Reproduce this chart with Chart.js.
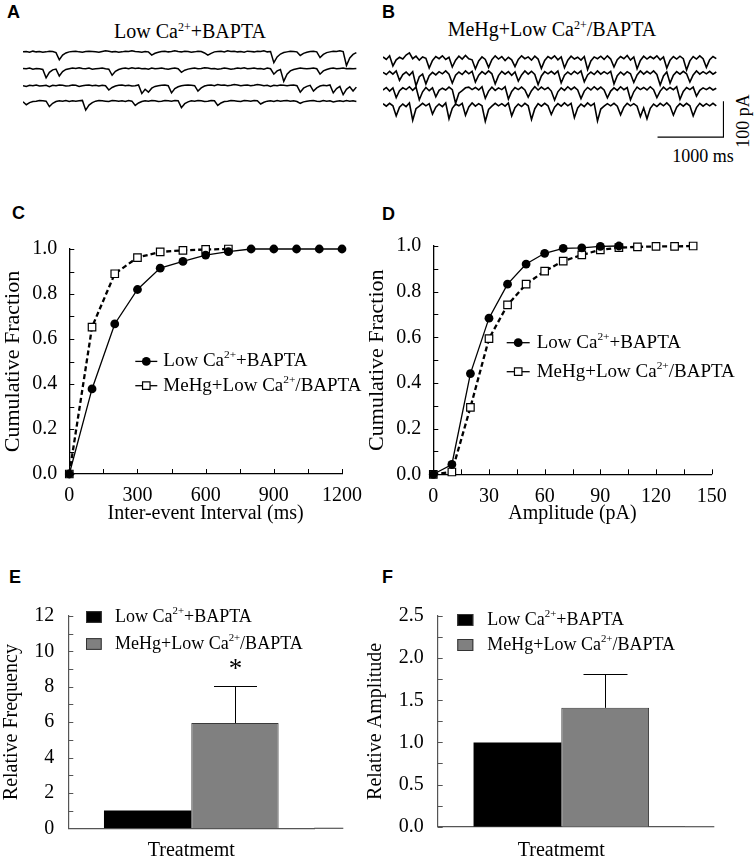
<!DOCTYPE html>
<html>
<head>
<meta charset="utf-8">
<script src="https://cdn.jsdelivr.net/npm/chart.js@4.4.1/dist/chart.umd.min.js"></script>
<style>
  body { margin: 0; background: #fff; width: 755px; height: 863px; position: relative; overflow: hidden;
         font-family: "Liberation Serif", "Times New Roman", serif; color: #000; }
  canvas { position: absolute; }
  .letter { position: absolute; font: bold 18px "Liberation Sans", Arial, sans-serif; line-height: 18px; }
  .title { position: absolute; font-size: 20px; line-height: 20px; white-space: nowrap; transform: translateX(-50%); }
  .scale { position: absolute; font-size: 18px; line-height: 18px; white-space: nowrap; }
  sup { font-size: 60%; position: relative; top: -0.6em; vertical-align: baseline; line-height: 0; }
</style>
</head>
<body>
<div class="letter" style="left:7px;top:3px">A</div>
<div class="letter" style="left:382px;top:3px">B</div>
<div class="letter" style="left:12px;top:204px">C</div>
<div class="letter" style="left:382px;top:205px">D</div>
<div class="letter" style="left:9px;top:568px">E</div>
<div class="letter" style="left:382px;top:568px">F</div>
<div class="title" id="titleA" style="left:190px;top:21px"></div>
<div class="title" id="titleB" style="left:552px;top:19px"></div>
<div class="scale" style="left:743px;top:121px;transform:translate(-50%,-50%) rotate(-90deg)">100 pA</div>
<div class="scale" style="left:703px;top:147px;transform:translateX(-50%)">1000 ms</div>

<canvas id="traceA" width="336" height="100" style="left:23px;top:40px"></canvas>
<canvas id="traceB" width="341" height="100" style="left:383px;top:40px"></canvas>
<canvas id="chartC" width="372" height="301" style="left:0px;top:225px"></canvas>
<canvas id="chartD" width="381" height="304" style="left:364px;top:222px"></canvas>
<canvas id="chartE" width="372" height="273" style="left:0px;top:590px"></canvas>
<canvas id="chartF" width="381" height="273" style="left:364px;top:590px"></canvas>

<script>
// ---- data ----
// series names; odd parts are superscripts
const seriesLabels = [['Low Ca', '2+', '+BAPTA'], ['MeHg+Low Ca', '2+', '/BAPTA']];

// sample traces (pA, relative to each trace baseline), one sample every 50 ms
const sampleMs = 50;
const lowCaTraces = [
  [0,1,-1,2,0,1,-1,0,2,1, -2,-22,-9,-3,0,1,2,0,-1,1, 2,1,0,-1,1,3,2,0,1,-1, 0,2,1,3,1,0,-1,1,0,-9,
   -4,-1,1,2,0,1,3,1,0,2, 1,-1,0,2,1,-3,-9,-4,0,1, 2,0,3,1,2,0,1,-1,2,1, 0,2,1,3,0,1,-30,-14,-6,-2,
   0,2,1,0,-10,-4,-1,1,2,0, -16,-7,-2,0,2,1,3,1,-38,-17, -7,-2],
  [1,0,2,-1,1,0,-2,-25,-10,-3, -1,-20,-8,-2,0,2,1,3,1,0, 2,-1,0,1,2,0,-1,-18,-7,-2, 1,2,0,3,1,2,0,1,-1,2,
   0,1,2,0,-1,1,2,0,-10,-4, -1,1,2,0,1,3,2,0,1,-1, 0,2,1,-1,0,2,1,3,0,1, 2,0,1,-1,2,0,-15,-6,-2,-35,
   -15,-6,-2,0,2,1,0,1,2,0, -15,-6,-2,1,2,0,1,2,0,1, 0,1],
  [0,-2,1,0,2,-1,0,1,-3,1, 0,2,1,-1,0,2,1,-2,0,1, 2,0,1,-1,1,0,-12,-5,-1,1, 2,0,1,-1,0,2,-22,-10,-18,-7,
   -2,0,1,2,0,-20,-8,-3,0,1, 2,1,0,-15,-6,-1,1,2,0,3, 1,2,0,1,3,2,0,1,2,0, 1,3,2,0,1,-2,1,0,2,1,
   0,1,2,0,-18,-7,-2,1,-15,-6, -1,1,0,2,-20,-8,-2,-25,-10,-3, -15,-4],
  [-2,-10,-4,-1,0,2,1,0,-15,-6, -1,1,0,2,-1,1,0,1,2,-25, -11,-4,0,2,1,0,-1,2,1,0, 1,-1,2,0,-12,-5,-1,1,0,2,
   1,-1,0,2,1,0,2,1,-18,-7, -2,1,0,2,1,-1,0,2,1,-12, -5,-1,0,2,1,0,-1,2,1,0, 2,1,-8,-3,0,1,-1,2,0,1,
   2,0,1,-1,-6,-2,0,1,2,0, -1,2,0,1,-2,0,1,-1,2,0, 1,-1]
];
const mehgTraces = [
  [3,-4,6,-22,-5,2,-3,8,14,-2, 5,-6,3,-1,-28,-7,4,-2,6,-4, 2,-25,-6,5,-3,7,-2,-5,-30,-8, 3,-4,-26,-5,6,-3,4,-7,2,-5,
   -24,-4,6,-2,3,-6,5,-3,-29,-7, 4,-2,6,-5,3,-27,-6,5,-3,2, -6,4,-32,-8,3,-2,5,-4,6,-3, -25,-5,4,-2,7,-6,3,-30,-7,5,
   -3,4,-2,6,-5,3,-28,-6,4,-3, 5,-2,-33,-8,4,-3,6,-2,-26,-5, 4,-2],
  [2,-4,5,-3,6,-20,-4,3,-6,4, -35,-10,-3,-30,-7,2,-5,4,-2,6, -3,-28,-6,3,-4,6,-2,5,-25,-6, 4,-3,6,-2,-30,-7,5,-3,4,-6,
   3,-22,-5,6,-3,5,-4,-32,-8,4, -2,5,-3,6,-27,-6,3,-4,5,-2, 6,-24,-5,3,-4,6,-3,4,-2,5, -30,-7,3,-5,4,-2,-26,-5,6,-3,
   5,-2,6,-4,-33,-8,3,-28,-6,4, -3,5,-2,-25,-5,6,-3,4,-2,5, -3,3],
  [-3,4,-6,3,-24,-5,3,-2,6,-4, 5,-30,-8,4,-5,3,-22,-4,2,-3, 5,-2,-40,-12,-5,3,5,-2,4,-3, 6,-26,-6,5,-4,3,-2,6,-28,-7,
   4,-2,5,-3,-23,-5,6,-3,5,-2, 4,-6,-31,-8,3,-4,6,-2,5,-3, -27,-6,4,-3,6,-2,5,-3,-25,-6, 3,-4,6,-2,4,-30,-8,5,-2,4,
   -3,6,-2,-24,-6,5,-3,4,-2,6, -29,-7,4,-2,5,-20,-4,3,-2,4, -3,2],
  [4,-3,5,-2,-30,-6,3,-4,6,-42, -10,-3,5,-2,4,-25,-6,3,-4,6, -38,-9,3,-2,5,-28,-5,6,-3,4, -2,-45,-12,-3,5,-2,4,-3,6,-30,
   -7,3,-4,5,-2,-40,-10,4,-3,5, -2,-26,-6,4,-3,6,-2,5,-35,-8, 3,-4,6,-2,5,-44,-11,-3,4,-2, 5,-3,-27,-6,5,-2,4,-3,-32,-8,
   -38,-9,3,-4,5,-2,6,-3,-28,-6, 4,-3,5,-2,-30,-7,5,-3,4,-2, 5,-2]
];
const scaleBarMs = 1000;
const scaleBarPA = 100;

// cumulative distributions
const intervalLowCaX = [0, 100, 200, 300, 400, 500, 600, 700, 800, 900, 1000, 1100, 1200];
const intervalLowCa  = [0, 0.378, 0.667, 0.82, 0.915, 0.945, 0.973, 0.988, 1, 1, 1, 1, 1];
const intervalMeHgX  = [0, 100, 200, 300, 400, 500, 600, 700];
const intervalMeHg   = [0, 0.653, 0.89, 0.962, 0.987, 0.994, 0.998, 1];
const ampLowCaX = [0, 10, 20, 30, 40, 50, 60, 70, 80, 90, 100];
const ampLowCa  = [0, 0.043, 0.441, 0.684, 0.833, 0.921, 0.968, 0.99, 0.992, 0.998, 1];
const ampMeHgX  = [0, 10, 20, 30, 40, 50, 60, 70, 80, 90, 100, 110, 120, 130, 140];
const ampMeHg   = [0, 0.01, 0.293, 0.594, 0.742, 0.833, 0.89, 0.934, 0.961, 0.983, 0.993, 0.996, 0.998, 0.998, 1];

// normalised bars
const relFreq = [1.0, 5.95];
const relFreqErr = [0, 2.08];
const relFreqSig = ['', '*'];
const relAmp = [1.0, 1.41];
const relAmpErr = [0, 0.4];
const relAmpSig = ['', ''];
const treatmentLabel = 'Treatmemt';

// ---- setup ----
Chart.defaults.font.family = '"Liberation Serif", "Times New Roman", serif';
Chart.defaults.color = '#000';

function htmlLabel(parts) {
  return parts.map((p, i) => i % 2 ? '<sup>' + p + '</sup>' : p).join('');
}
document.getElementById('titleA').innerHTML = htmlLabel(seriesLabels[0]);
document.getElementById('titleB').innerHTML = htmlLabel(seriesLabels[1]);

function drawRich(ctx, parts, x, y, size) {
  ctx.textBaseline = 'middle';
  ctx.textAlign = 'left';
  parts.forEach((p, i) => {
    if (i % 2) {
      ctx.font = (size * 0.6) + 'px ' + Chart.defaults.font.family;
      ctx.fillText(p, x, y - size * 0.32);
    } else {
      ctx.font = size + 'px ' + Chart.defaults.font.family;
      ctx.fillText(p, x, y);
    }
    x += ctx.measureText(p).width;
  });
}

// inward tick marks on the axes
const inwardTicks = {
  id: 'inwardTicks',
  afterDraw(chart, args, opts) {
    const ctx = chart.ctx, xs = chart.scales.x, ys = chart.scales.y;
    ctx.save();
    ctx.strokeStyle = opts.color || '#000';
    ctx.lineWidth = 1;
    ctx.beginPath();
    if (opts.xStep) {
      for (let i = 0; ; i++) {
        const v = xs.min + i * opts.xStep;
        if (v > xs.max + 1e-9) break;
        const p = Math.round(xs.getPixelForValue(v)) + 0.5;
        ctx.moveTo(p, xs.top); ctx.lineTo(p, xs.top - opts.len);
      }
    }
    if (opts.yStep) {
      for (let i = 0; ; i++) {
        const v = ys.min + i * opts.yStep;
        if (v > ys.max + 1e-9) break;
        const p = Math.round(ys.getPixelForValue(v)) + 0.5;
        ctx.moveTo(ys.right, p); ctx.lineTo(ys.right + opts.len, p);
      }
    }
    ctx.stroke();
    if (opts.tail) {
      ctx.lineWidth = 1.2;
      ctx.beginPath();
      const yb = xs.top;
      ctx.moveTo(chart.chartArea.right, yb); ctx.lineTo(chart.chartArea.right + opts.tail, yb);
      ctx.stroke();
    }
    ctx.restore();
  }
};

// legend for the line charts
const lineLegend = {
  id: 'lineLegend',
  afterDraw(chart, args, opts) {
    const ctx = chart.ctx, ca = chart.chartArea;
    ctx.save();
    chart.data.datasets.forEach((ds, i) => {
      const x0 = ca.left + opts.dx, y = ca.top + opts.dy + i * opts.gap;
      ctx.strokeStyle = '#000';
      ctx.lineWidth = 1.3;
      ctx.beginPath(); ctx.moveTo(x0, y); ctx.lineTo(x0 + opts.len, y); ctx.stroke();
      ctx.fillStyle = ds.pointBackgroundColor;
      ctx.strokeStyle = ds.pointBorderColor;
      ctx.lineWidth = ds.pointBorderWidth;
      Chart.helpers.drawPoint(ctx, {
        pointStyle: ds.pointStyle, radius: ds.pointRadius, borderWidth: ds.pointBorderWidth, rotation: 0
      }, x0 + opts.len / 2, y);
      ctx.fillStyle = '#000';
      drawRich(ctx, ds.labelParts, x0 + opts.textDx, y, opts.size);
    });
    ctx.restore();
  }
};

// legend for the bar charts
const barLegend = {
  id: 'barLegend',
  afterDraw(chart, args, opts) {
    const ctx = chart.ctx, ca = chart.chartArea;
    ctx.save();
    chart.data.datasets.forEach((ds, i) => {
      const x0 = ca.left + opts.dx, y = ca.top + opts.dy + i * opts.gap;
      ctx.fillStyle = ds.backgroundColor;
      ctx.fillRect(x0, y - opts.h / 2, opts.w, opts.h);
      ctx.strokeStyle = '#333';
      ctx.lineWidth = 1;
      ctx.strokeRect(x0 + 0.5, y - opts.h / 2 + 0.5, opts.w - 1, opts.h - 1);
      ctx.fillStyle = '#000';
      drawRich(ctx, ds.labelParts, x0 + opts.textDx, y, opts.size);
    });
    ctx.restore();
  }
};

// upward error bars and significance marks
const errorBars = {
  id: 'errorBars',
  afterDatasetsDraw(chart, args, opts) {
    const ctx = chart.ctx, ys = chart.scales.y;
    ctx.save();
    ctx.strokeStyle = '#000';
    ctx.lineWidth = 1;
    chart.data.datasets.forEach((ds, i) => {
      const bar = chart.getDatasetMeta(i).data[0];
      const err = ds.errors[0];
      if (!err) return;
      const top = ys.getPixelForValue(ds.data[0] + err);
      const x = Math.round(bar.x) + 0.5;
      ctx.beginPath();
      ctx.moveTo(x, bar.y); ctx.lineTo(x, top);
      ctx.moveTo(x - opts.cap / 2, Math.round(top) + 0.5); ctx.lineTo(x + opts.cap / 2, Math.round(top) + 0.5);
      ctx.stroke();
      if (ds.sig[0]) {
        ctx.fillStyle = '#000';
        ctx.font = '27px ' + Chart.defaults.font.family;
        ctx.textAlign = 'center';
        ctx.textBaseline = 'alphabetic';
        ctx.fillText(ds.sig[0], x, top - 9);
      }
    });
    ctx.restore();
  }
};

// ---- traces A, B ----
function traceChart(id, traces, bases, xMax, lineW, withBar) {
  const datasets = traces.map((tr, k) => ({
    data: tr.map((v, i) => ({ x: i * sampleMs, y: v + bases[k] })),
    borderColor: '#000', borderWidth: lineW, pointRadius: 0, tension: 0, clip: false
  }));
  if (withBar) {
    const x1 = withBar.x + scaleBarMs, y0 = withBar.y;
    datasets.push({
      data: [{ x: withBar.x, y: y0 }, { x: x1, y: y0 }, { x: x1, y: y0 + scaleBarPA }],
      borderColor: '#000', borderWidth: 1.3, pointRadius: 0, clip: false
    });
  }
  new Chart(document.getElementById(id), {
    type: 'line',
    data: { datasets },
    options: {
      responsive: false, animation: false, devicePixelRatio: 1,
      layout: { padding: 0 },
      plugins: { legend: { display: false }, tooltip: { enabled: false } },
      scales: {
        x: { type: 'linear', display: false, min: 0, max: xMax },
        y: { type: 'linear', display: false, min: -278, max: 0 }
      }
    }
  });
}
traceChart('traceA', lowCaTraces, [-33, -80, -127, -170], 5090, 1.5, null);
traceChart('traceB', mehgTraces, [-50, -92, -136, -181], 5167, 1.6, { x: 4160, y: -270 });

// ---- cumulative charts C, D ----
function cumChart(id, xsLow, low, xsMe, me, xOpts, xTitle, yWidth, xHeight, pad, legendOpts) {
  new Chart(document.getElementById(id), {
    type: 'line',
    data: {
      datasets: [
        {
          labelParts: seriesLabels[0],
          data: xsLow.map((x, i) => ({ x, y: low[i] })),
          borderColor: '#000', borderWidth: 1.3, tension: 0, clip: false, order: 0,
          pointStyle: 'circle', pointRadius: 4.4, pointBackgroundColor: '#000', pointBorderColor: '#000', pointBorderWidth: 0
        },
        {
          labelParts: seriesLabels[1],
          data: xsMe.map((x, i) => ({ x, y: me[i] })),
          borderColor: '#000', borderWidth: 2.3, borderDash: [5, 3], tension: 0, clip: false, order: 1,
          pointStyle: 'rect', pointRadius: 5.3, pointBackgroundColor: '#fff', pointBorderColor: '#000', pointBorderWidth: 1.2
        }
      ]
    },
    options: {
      responsive: false, animation: false, devicePixelRatio: 1,
      layout: { padding: pad },
      plugins: {
        legend: { display: false }, tooltip: { enabled: false },
        inwardTicks: { xStep: xOpts.minor, yStep: 0.1, len: 5, color: '#000' },
        lineLegend: legendOpts
      },
      scales: {
        x: {
          type: 'linear', min: 0, max: xOpts.max,
          grid: { display: false, drawTicks: false },
          border: { display: true, color: '#000', width: 1.3 },
          ticks: { stepSize: xOpts.step, padding: 10, font: { size: 20 }, maxRotation: 0, autoSkip: false,
                   callback: v => String(v) },
          title: { display: true, text: xTitle, font: { size: 20 }, padding: 0 },
          afterFit: s => { s.height = xHeight; }
        },
        y: {
          type: 'linear', min: 0, max: 1,
          grid: { display: false, drawTicks: false },
          border: { display: true, color: '#000', width: 1.3 },
          ticks: { stepSize: 0.2, padding: 12, font: { size: 20 }, callback: v => v.toFixed(1) },
          title: { display: true, text: 'Cumulative Fraction', font: { size: 22 }, padding: 0 },
          afterFit: s => { s.width = yWidth; }
        }
      }
    },
    plugins: [inwardTicks, lineLegend]
  });
}
cumChart('chartC', intervalLowCaX, intervalLowCa, intervalMeHgX, intervalMeHg,
  { max: 1200, step: 300, minor: 150 }, 'Inter-event Interval (ms)', 69.3, 52,
  { top: 18.3, right: 29.7, left: 0, bottom: 0 },
  { dx: 66, dy: 112.4, gap: 24.3, len: 22, textDx: 28, size: 19 });
cumChart('chartD', ampLowCaX, ampLowCa, ampMeHgX, ampMeHg,
  { max: 150, step: 30, minor: 15 }, 'Amplitude (pA)', 69.3, 51.7,
  { top: 18, right: 33.3, left: 0, bottom: 0 },
  { dx: 73.4, dy: 96.7, gap: 29, len: 23, textDx: 30, size: 19 });

// ---- bar charts E, F ----
function barChart(id, vals, errs, sig, yMax, yStep, yMinor, yTitle, fmt, yWidth, xHeight, pad, tail, legendOpts, cap) {
  new Chart(document.getElementById(id), {
    type: 'bar',
    data: {
      labels: [treatmentLabel],
      datasets: [
        { labelParts: seriesLabels[0], data: [vals[0]], errors: [errs[0]], sig: [sig[0]],
          backgroundColor: '#000', borderWidth: 0 },
        { labelParts: seriesLabels[1], data: [vals[1]], errors: [errs[1]], sig: [sig[1]],
          backgroundColor: '#808080', borderColor: '#3a3a3a', borderWidth: 1 }
      ]
    },
    options: {
      responsive: false, animation: false, devicePixelRatio: 1,
      layout: { padding: pad },
      categoryPercentage: 0.71, barPercentage: 1,
      plugins: {
        legend: { display: false }, tooltip: { enabled: false },
        inwardTicks: { yStep: yMinor, len: 5, color: '#555', tail },
        barLegend: legendOpts,
        errorBars: { cap }
      },
      scales: {
        x: {
          grid: { display: false, drawTicks: false },
          border: { display: true, color: '#555', width: 1.2 },
          ticks: { display: false },
          title: { display: true, text: treatmentLabel, font: { size: 20 }, padding: 0 },
          afterFit: s => { s.height = xHeight; }
        },
        y: {
          min: 0, max: yMax,
          grid: { display: false, drawTicks: false },
          border: { display: true, color: '#555', width: 1.2 },
          ticks: { stepSize: yStep, padding: 14, font: { size: 20 }, callback: fmt },
          title: { display: true, text: yTitle, font: { size: 20 }, padding: 0 },
          afterFit: s => { s.width = yWidth; }
        }
      }
    },
    plugins: [inwardTicks, barLegend, errorBars]
  });
}
barChart('chartE', relFreq, relFreqErr, relFreqSig, 12, 2, 1, 'Relative Frequency', v => String(v),
  68.3, 34.7, { top: 18.3, right: 57.7, left: 0, bottom: 0 }, 29,
  { dx: 17.7, dy: 1, gap: 27, w: 15.7, h: 11.7, textDx: 29, size: 18 }, 43);
barChart('chartF', relAmp, relAmpErr, relAmpSig, 2.5, 0.5, 0.25, 'Relative Amplitude', v => v.toFixed(1),
  73.7, 36.3, { top: 16, right: 60.1, left: 0, bottom: 0 }, 29.4,
  { dx: 19.6, dy: 4, gap: 25, w: 16, h: 12, textDx: 30, size: 18 }, 44);
</script>
</body>
</html>
